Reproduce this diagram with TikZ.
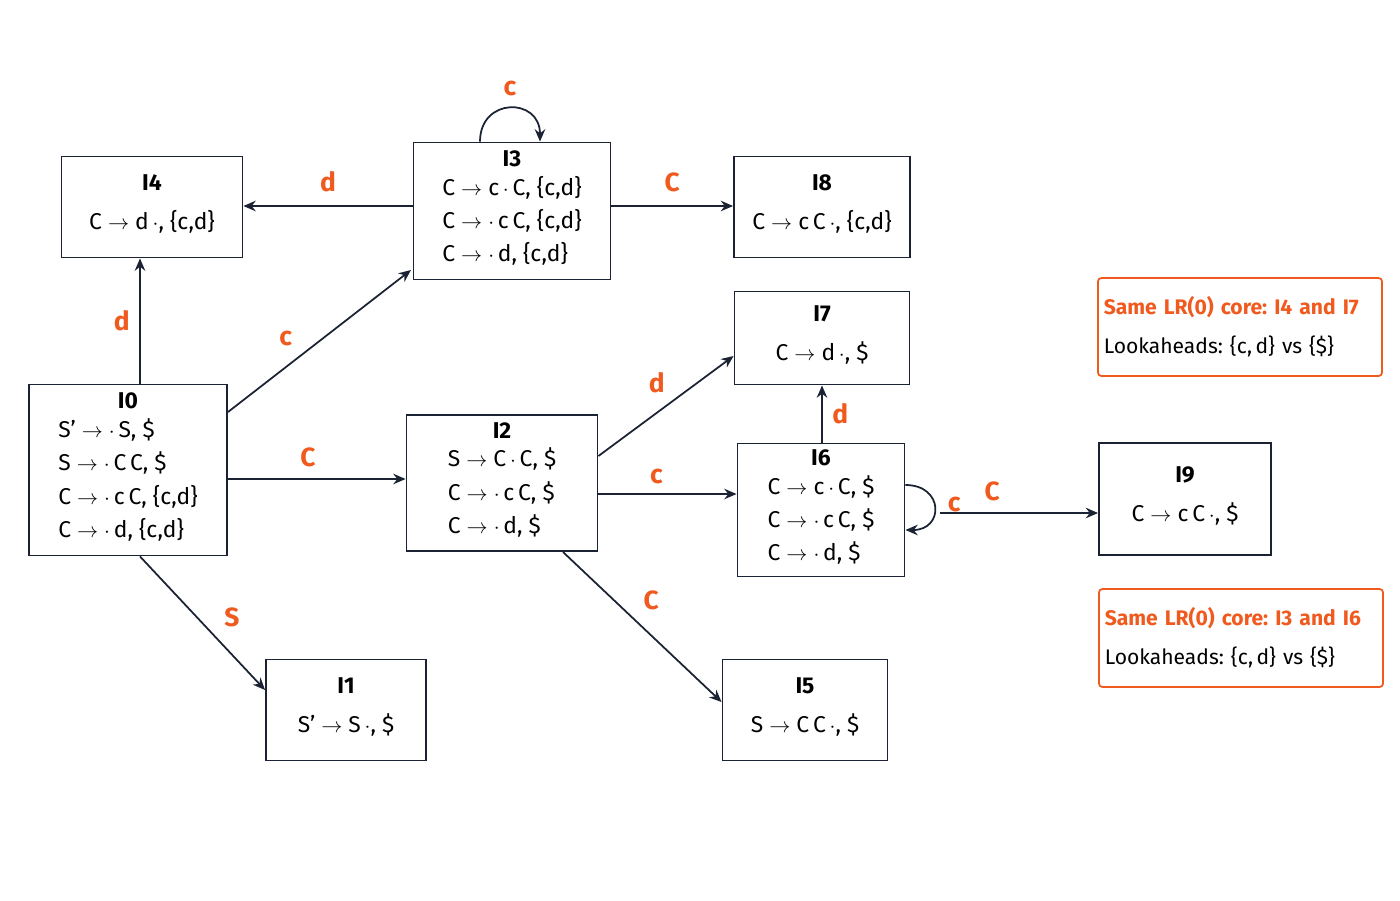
\documentclass[tikz,border=0pt]{standalone}
\usepackage{fontspec}
\setmainfont{Fira Sans}
\frenchspacing
\usetikzlibrary{positioning,arrows.meta}
\definecolor{lrorange}{HTML}{F05A1E}
\definecolor{lrnavy}{HTML}{1A2233}
\tikzset{
  state/.style={draw=lrnavy, line width=1.1pt, rectangle, align=center, inner sep=2pt,
    font=\fontsize{13}{19}\selectfont},
  arr/.style={-{Stealth[length=7pt,width=6pt]}, draw=lrnavy, line width=1pt},
  lbl/.style={text=lrorange, font=\fontsize{15}{18}\selectfont\bfseries},
  note/.style={draw=lrorange, line width=1pt, rounded corners=2pt, align=left,
    minimum width=5.68cm, minimum height=1.96cm, text width=5.45cm,
    font=\fontsize{12}{22}\selectfont}
}
\newcommand{\ar}{$\rightarrow$\ }
\newcommand{\itm}[2]{\textbf{#1}\\[2pt]\begin{tabular}{@{}l@{}}#2\end{tabular}}
\begin{document}
\begin{tikzpicture}[x=0.02cm,y=-0.02cm]
\useasboundingbox (0,0) rectangle (1400,900);

% item sets
\node[state, minimum width=3.62cm, minimum height=2.02cm] (I4) at (152,207)
  {\itm{I4}{C \ar d\,$\cdot$, \{c,d\}}};
\node[state, minimum width=3.94cm, minimum height=2.74cm] (I3) at (512,211)
  {\itm{I3}{C \ar c\,$\cdot$\,C, \{c,d\}\\ C \ar $\cdot$\,c\,C, \{c,d\}\\ C \ar $\cdot$\,d, \{c,d\}}};
\node[state, minimum width=3.52cm, minimum height=2.02cm] (I8) at (822,207)
  {\itm{I8}{C \ar c\,C\,$\cdot$, \{c,d\}}};
\node[state, minimum width=3.5cm, minimum height=1.86cm] (I7) at (822,338)
  {\itm{I7}{C \ar d\,$\cdot$, \$}};
\node[state, minimum width=3.96cm, minimum height=3.42cm] (I0) at (128,470)
  {\itm{I0}{S' \ar $\cdot$\,S, \$\\ S \ar $\cdot$\,C\,C, \$\\ C \ar $\cdot$\,c\,C, \{c,d\}\\ C \ar $\cdot$\,d, \{c,d\}}};
\node[state, minimum width=3.82cm, minimum height=2.72cm] (I2) at (502,483)
  {\itm{I2}{S \ar C\,$\cdot$\,C, \$\\ C \ar $\cdot$\,c\,C, \$\\ C \ar $\cdot$\,d, \$}};
\node[state, minimum width=3.34cm, minimum height=2.66cm] (I6) at (821,510)
  {\itm{I6}{C \ar c\,$\cdot$\,C, \$\\ C \ar $\cdot$\,c\,C, \$\\ C \ar $\cdot$\,d, \$}};
\node[state, minimum width=3.44cm, minimum height=2.24cm] (I9) at (1185,499)
  {\itm{I9}{C \ar c\,C\,$\cdot$, \$}};
\node[state, minimum width=3.2cm, minimum height=2.02cm] (I1) at (346,710)
  {\itm{I1}{S' \ar S\,$\cdot$, \$}};
\node[state, minimum width=3.3cm, minimum height=2.02cm] (I5) at (805,710)
  {\itm{I5}{S \ar C\,C\,$\cdot$, \$}};

% notes
\node[note] (N1) at (1240,327) {\textcolor{lrorange}{\bfseries Same LR(0) core: I4 and I7}\\ Lookaheads: \{c,\,d\} vs \{\$\}};
\node[note] (N2) at (1241,638) {\textcolor{lrorange}{\bfseries Same LR(0) core: I3 and I6}\\ Lookaheads: \{c,\,d\} vs \{\$\}};

% transitions
\draw[arr] (I0.north -| 140,0) -- (I4.south -| 140,0) node[lbl, midway, left=2pt] {d};
\draw[arr] (228,412) -- (411,270) node[lbl, pos=0.4, above left=2pt] {c};
\draw[arr] (I0.east |- 0,479) -- (I2.west |- 0,479) node[lbl, pos=0.45, above=3pt] {C};
\draw[arr] (I0.south -| 140,0) -- (I1.west |- 0,690) node[lbl, pos=0.6, above right=2pt] {S};
\draw[arr] (I3.west |- 0,206) -- (I4.east |- 0,206) node[lbl, midway, above=4pt] {d};
\draw[arr] (I3.east |- 0,206) -- (I8.west |- 0,206) node[lbl, midway, above=4pt] {C};
\draw[arr] ([xshift=-0.64cm]I3.north) to[out=90, in=90, looseness=1.9]
  node[lbl, above=3pt] {c} ([xshift=0.56cm]I3.north);
\draw[arr] (I2.east |- 0,456) -- (I7.west |- 0,356) node[lbl, pos=0.55, above left=1pt] {d};
\draw[arr] (I2.east |- 0,494) -- (I6.west |- 0,494) node[lbl, pos=0.42, above=2pt] {c};
\draw[arr] (563,552) -- (I5.west |- 0,702) node[lbl, pos=0.45, above right=2pt] {C};
\draw[arr] (I6.north -| 822,0) -- (I7.south -| 822,0) node[lbl, midway, right=2pt] {d};
\draw[arr] ([yshift=0.5cm]I6.east) to[out=0, in=0, looseness=2.2]
  node[lbl, right=4pt, pos=0.45] {c} ([yshift=-0.4cm]I6.east);
\draw[arr] (940,513) -- (I9.west |- 0,513) node[lbl, pos=0.33, above=3pt] {C};
\end{tikzpicture}
\end{document}
